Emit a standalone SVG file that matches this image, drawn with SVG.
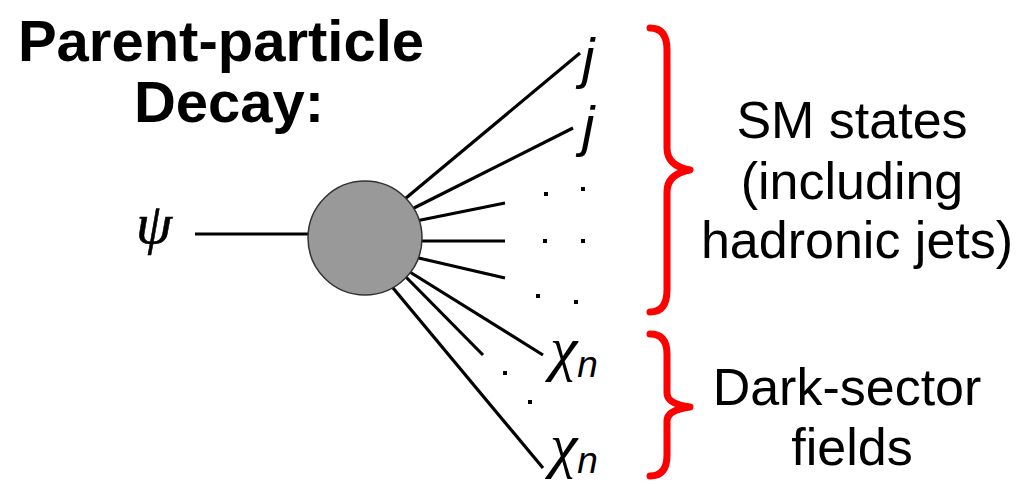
<svg xmlns="http://www.w3.org/2000/svg" width="1035" height="485" viewBox="0 0 1035 485">
<style>
.title{font-family:"Liberation Sans",Arial,sans-serif;font-weight:bold;font-size:58px;fill:#000}
.lbl{font-family:"Liberation Sans",Arial,sans-serif;font-size:52px;fill:#000}
.line{stroke:#000;stroke-width:3.2;fill:none}
.brace{stroke:#ff0000;stroke-width:7;fill:none;stroke-linecap:round;stroke-linejoin:round}
.dot{fill:#000}
.sym{font-family:"Liberation Serif","Times New Roman",serif;font-style:italic;fill:#000}
.ssym{font-family:"Liberation Sans",Arial,sans-serif;font-style:italic;fill:#000}
</style>
<rect width="1035" height="485" fill="#fff"/>
<g id="title">
<text class="title" x="221" y="61" text-anchor="middle">Parent-particle</text>
<text class="title" x="229" y="122" text-anchor="middle">Decay:</text>
</g>
<g id="connectors">
<line class="line" x1="195" y1="234" x2="330" y2="234"/>
<line class="line" x1="400" y1="203" x2="580" y2="53"/>
<line class="line" x1="408" y1="211" x2="573" y2="128"/>
<line class="line" x1="411" y1="222" x2="505" y2="203"/>
<line class="line" x1="414" y1="241" x2="505" y2="241"/>
<line class="line" x1="410" y1="256" x2="505" y2="278"/>
<line class="line" x1="405" y1="269" x2="543" y2="355"/>
<line class="line" x1="401" y1="272" x2="483" y2="355"/>
<line class="line" x1="388" y1="282" x2="543" y2="468"/>
</g>
<g id="vertex">
<circle cx="365" cy="238" r="57" fill="#999999" stroke="#333" stroke-width="1.5"/>
</g>
<g id="dots">
<rect class="dot" x="544" y="192" width="4" height="4"/>
<rect class="dot" x="581" y="187" width="4" height="4"/>
<rect class="dot" x="543" y="239" width="4" height="4"/>
<rect class="dot" x="581" y="239" width="4" height="4"/>
<rect class="dot" x="536" y="294" width="4" height="4"/>
<rect class="dot" x="574" y="300" width="4" height="4"/>
<rect class="dot" x="503" y="371" width="4" height="4"/>
<rect class="dot" x="528" y="400" width="4" height="4"/>
</g>
<g id="psi">
<text class="sym" x="136" y="243" font-size="58" stroke="#000" stroke-width="0.6">ψ</text>
</g>
<g id="j1"><text class="ssym" x="582" y="77" font-size="56">j</text></g>
<g id="j2"><text class="ssym" x="582" y="145" font-size="56">j</text></g>
<g id="chi1"><text class="sym" x="550" y="369" font-size="62">χ<tspan class="ssym" font-size="37" dy="8">n</tspan></text></g>
<g id="chi2"><text class="sym" x="550" y="466" font-size="62">χ<tspan class="ssym" font-size="37" dy="7">n</tspan></text></g>
<g id="brace-sm">
<path class="brace" d="M650,28 Q667,28 667,50 L667,148 Q667,166 690,170 Q667,174 667,192 L667,290 Q667,312 650,312"/>
<text class="lbl" x="852" y="138" text-anchor="middle">SM states</text>
<text class="lbl" x="852" y="199" text-anchor="middle">(including</text>
<text class="lbl" x="857" y="258" text-anchor="middle">hadronic jets)</text>
</g>
<g id="brace-dark">
<path class="brace" d="M650,334 Q667,334 667,354 L667,393 Q667,404 690,407 Q667,410 667,421 L667,455 Q667,476 650,476"/>
<text class="lbl" x="847" y="405" text-anchor="middle">Dark-sector</text>
<text class="lbl" x="852" y="465" text-anchor="middle">fields</text>
</g>
</svg>
